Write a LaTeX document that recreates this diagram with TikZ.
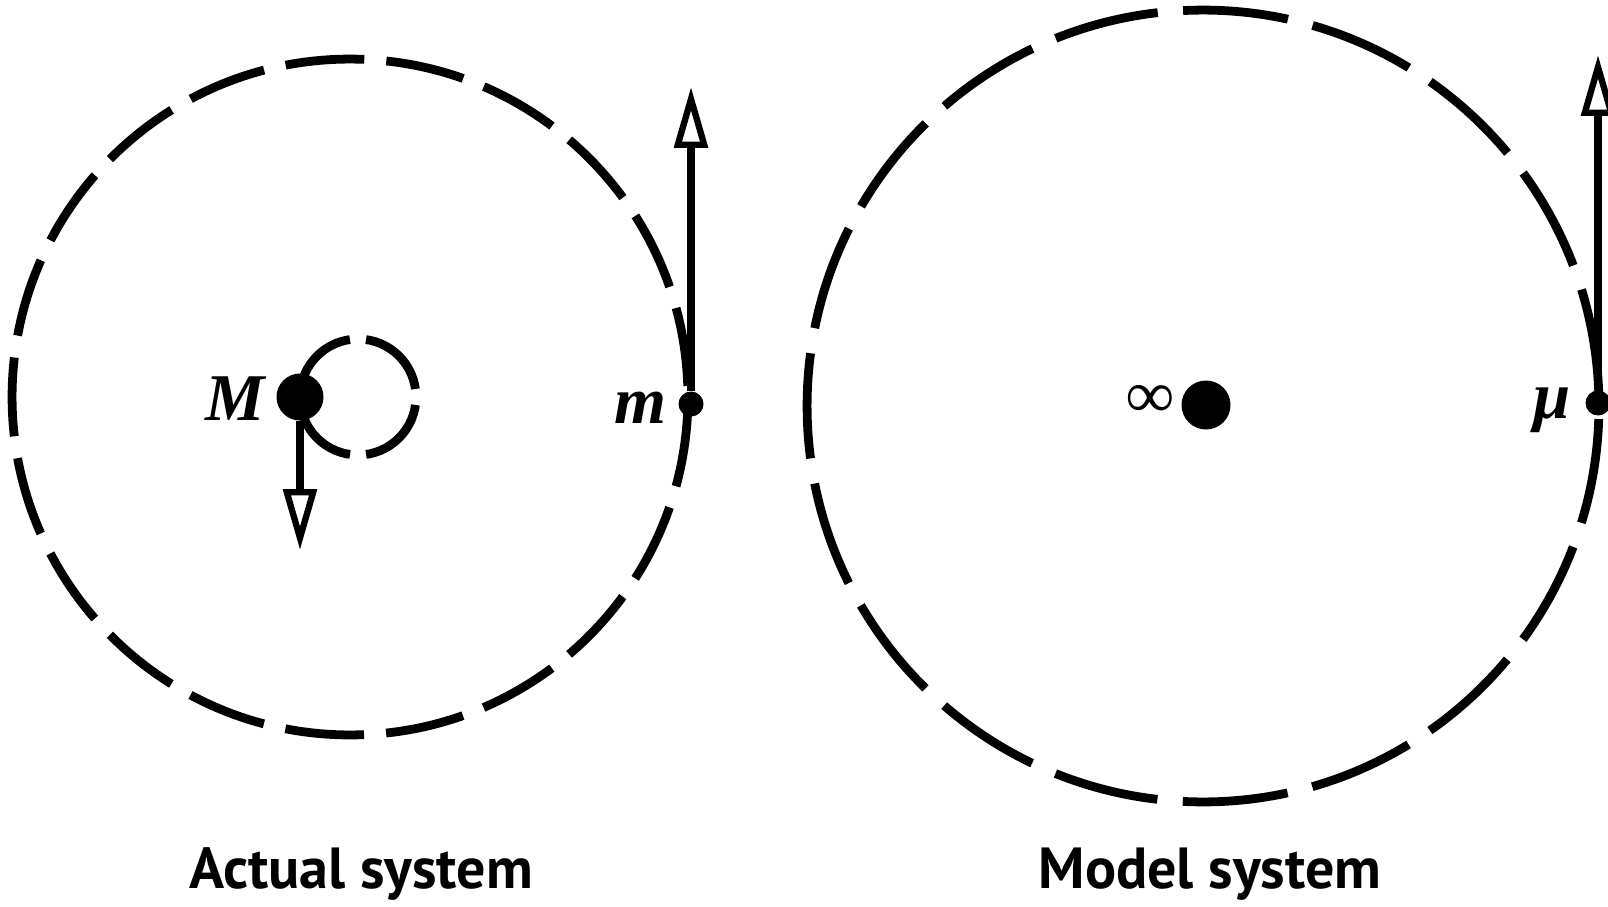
\documentclass[tikz,border=0pt]{standalone}
\usepackage{fontspec}
\setsansfont{PT Sans}
\newfontfamily\labelfont{Liberation Serif}
\usetikzlibrary{arrows.meta}

\begin{document}
\begin{tikzpicture}[x=0.02cm, y=-0.02cm,
	orbit/.style={line width=5pt},
	mass/.style={circle, fill, inner sep=0pt},
	vel/.style={line width=5pt, -{Triangle[open, length=1.22cm, width=0.66cm, line width=3.6pt]}},
	lbl/.style={font=\labelfont\fontsize{38}{42}\selectfont\bfseries\itshape, anchor=base, inner sep=0pt},
	caption/.style={font=\sffamily\bfseries\fontsize{33}{38}\selectfont, anchor=base, inner sep=0pt}]
	\useasboundingbox (0,0) rectangle (1608,906);
	% actual system
	\coordinate (cmA) at (350,397);
	\draw[orbit, dash pattern=on 1.58cm off 0.4426cm, dash phase=1.801cm] (cmA) circle[radius=6.76cm];
	\draw[orbit, dash pattern=on 1.5cm off 0.3221cm, dash phase=1.661cm] (358,397) circle[radius=1.16cm];
	\node[mass, minimum size=0.94cm] (M) at (300,397) {};
	\node[mass, minimum size=0.5cm] (m) at (691,404) {};
	\coordinate (vM) at (300,550);
	\coordinate (vm) at (691,87);
	\draw[vel] (M) -- (vM);
	\draw[vel] (m) -- (vm);
	\node[lbl] (labM) at (235,420) {M};
	\node[lbl] (labm) at (640,423) {m};
	\node[caption] (actual) at (361,888) {Actual system};
	% model system
	\coordinate (cmB) at (1203,406);
	\draw[orbit, dash pattern=on 2.11cm off 0.5091cm, dash phase=2.3646cm] (cmB) circle[radius=7.92cm];
	\node[mass, minimum size=0.98cm] (inf) at (1206,405) {};
	\node[mass, minimum size=0.5cm] (mu) at (1598,403) {};
	\coordinate (vmu) at (1598,55);
	\draw[vel] (mu) -- (vmu);
	\node[lbl, font=\labelfont\fontsize{38}{42}\selectfont\bfseries] (labinf) at (1150,417) {∞};
	\node[lbl] (labmu) at (1552,418) {μ};
	\node[caption] (model) at (1210,888) {Model system};
\end{tikzpicture}
\end{document}
